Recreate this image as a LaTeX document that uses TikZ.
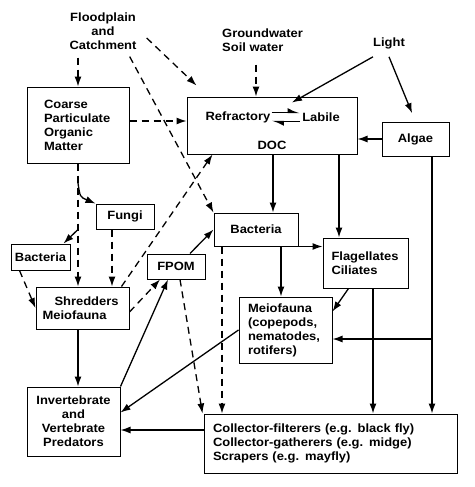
\documentclass[tikz,border=0pt]{standalone}
\usepackage{fontspec}
\setmainfont{Liberation Sans}[FakeStretch=1.08]
\usetikzlibrary{arrows.meta,calc}

\tikzset{
  box/.style={draw, line width=1pt, inner sep=0pt, font=\bfseries\fontsize{12}{14}\selectfont},
  lbl/.style={inner sep=0pt, font=\bfseries\fontsize{12}{14}\selectfont},
  flow/.style={line width=1.3pt, -{Latex[length=10pt,width=7pt]}},
  dflow/.style={flow, dash pattern=on 7pt off 5pt},
  harp/.style={line width=1.4pt, -{Latex[left,length=10pt,width=9pt]}},
}

\begin{document}
\begin{tikzpicture}[x=1pt,y=-1pt]
    \useasboundingbox (0,0) rectangle (474,487);
    % 竖线与横线的位置
    \coordinate (cx) at (78,0);
    \coordinate (fx) at (112,0);
    \coordinate (gx) at (256,0);
    \coordinate (d1) at (273,0);
    \coordinate (d2) at (339,0);
    \coordinate (b1) at (281,0);
    \coordinate (b2) at (222,0);
    \coordinate (f1) at (373,0);
    \coordinate (a1) at (432,0);
    \coordinate (mr) at (0,339);
    \coordinate (pr) at (0,430);
    \coordinate (cbend) at (78,183);

    % 来源
    \node[lbl, align=center] (flood) at (103,31) {Floodplain\\and\\Catchment};
    \node[lbl, align=left, anchor=west] (ground) at (222,40) {Groundwater\\Soil water};
    \node[lbl] (light) at (389,43) {Light};

    % 方框
    \node[box, minimum width=102pt, minimum height=76pt, text width=68pt, align=left] (cpom) at (78,125) {Coarse\\Particulate\\Organic\\Matter};
    \node[box, minimum width=170pt, minimum height=57pt] (doc) at (272,125.5) {};
    \node[lbl] (refr) at (238,117) {Refractory};
    \node[lbl] (labile) at (321,117) {Labile};
    \node[lbl] (doclbl) at (272,145) {DOC};
    \node[box, minimum width=67pt, minimum height=34pt] (algae) at (415.5,139) {Algae};
    \node[box, minimum width=58pt, minimum height=25pt] (fungi) at (125,216.5) {Fungi};
    \node[box, minimum width=59pt, minimum height=26pt] (bacl) at (40.5,257) {Bacteria};
    \node[box, minimum width=93pt, minimum height=42pt, text width=80pt, align=left] (shred) at (82.5,308) {\hspace*{12pt}\mbox{Shredders}\\Meiofauna};
    \node[box, minimum width=58pt, minimum height=25pt] (fpom) at (176,266.5) {FPOM};
    \node[box, minimum width=84pt, minimum height=33pt] (bacm) at (256,229.5) {Bacteria};
    \node[box, minimum width=85pt, minimum height=50pt, text width=68pt, align=left] (flag) at (365.5,263) {Flagellates\\Ciliates};
    \node[box, minimum width=93pt, minimum height=66pt, text width=75pt, align=left] (meio) at (285.5,330) {Meiofauna\\(copepods,\\nematodes,\\rotifers)};
    \node[box, minimum width=93pt, minimum height=69pt, align=center] (pred) at (73.5,421.5) {Invertebrate\\and\\Vertebrate\\Predators};
    \node[box, minimum width=253pt, minimum height=59pt, text width=235pt, align=left] (coll) at (330.5,443.5) {Collector-filterers (e.g. black fly)\\Collector-gatherers (e.g. midge)\\Scrapers (e.g. mayfly)};

    % Refractory <-> Labile
    \draw[harp, shorten <=1pt, shorten >=2pt] ([yshift=4.5pt]refr.east) -- ([yshift=4.5pt]labile.west);
    \draw[harp, shorten <=2pt, shorten >=1pt] ([yshift=-4.5pt]labile.west) -- ([yshift=-4.5pt]refr.east);

    % 虚线: 外来输入
    \draw[dflow, shorten <=8pt] (flood.south -| cx) -- (cpom.north);
    \draw[dflow] ($(flood.east)+(10,7)$) -- ($(doc.north west)+(10,-11)$);
    \draw[dflow] ($(flood.south east)+(-7,7)$) -- (bacm.north west);
    \draw[dflow] ([yshift=4pt]cpom.east) -- ([yshift=4pt]cpom.east -| doc.west);
    \draw[dflow, shorten <=13pt] (ground.south -| gx) -- (doc.north -| gx);

    % 光
    \draw[flow] ([yshift=-8pt]light.south west) -- ($(doc.north)+(20,6)$);
    \draw[flow, shorten >=9pt] ([yshift=-8pt]light.south) -- (algae.north);

    % DOC, Algae
    \draw[flow] (algae.west) -- (algae.west -| doc.east);
    \draw[flow] (doc.south -| d1) -- (bacm.north -| d1);
    \draw[flow] (doc.south -| d2) -- (flag.north -| d2);
    \draw[flow] (algae.south -| a1) -- (coll.north -| a1);
    \draw[flow] (mr -| a1) -- (mr -| meio.east);

    % Bacteria, Flagellates
    \draw[flow] (flag.south -| f1) -- (coll.north -| f1);
    \draw[flow] ([xshift=-17pt]flag.south) -- ([yshift=-15pt]meio.north east);
    \draw[flow] (bacm.south east) -- (bacm.south east -| flag.west);
    \draw[flow] (bacm.south -| b1) -- (meio.north -| b1);
    \draw[dflow] (bacm.south -| b2) -- (coll.north -| b2);

    % FPOM
    \draw[dflow] ([xshift=4pt]fpom.south) -- ([xshift=-1pt]coll.north west);
    \draw[flow] ([xshift=14pt]fpom.north) -- (bacm.west);
    \draw[dflow] ([yshift=-4pt]shred.east) -- ([xshift=-16pt]fpom.south);
    \draw[dflow] ([xshift=-8pt]shred.north east) -- ([xshift=26pt]doc.south west);

    % CPOM 分解
    \draw[dflow] (cpom.south) -- (cpom.south |- shred.north);
    \draw[flow] (cbend) .. controls (80,197) .. (fungi.north west);
    \draw[flow] (cpom.south |- fungi.south) -- ([xshift=-7pt]bacl.north east);
    \draw[dflow] (fungi.south -| fx) -- (shred.north -| fx);
    \draw[dflow] ([xshift=9pt]bacl.south west) -- (shred.west);

    % 捕食者
    \draw[flow] (shred.south -| cx) -- (pred.north -| cx);
    \draw[flow] (pred.north east) -- ([xshift=-8pt]fpom.south);
    \draw[flow] (meio.west) -- ([yshift=9pt]pred.east);
    \draw[flow] (pr -| coll.west) -- (pr -| pred.east);
\end{tikzpicture}
\end{document}
